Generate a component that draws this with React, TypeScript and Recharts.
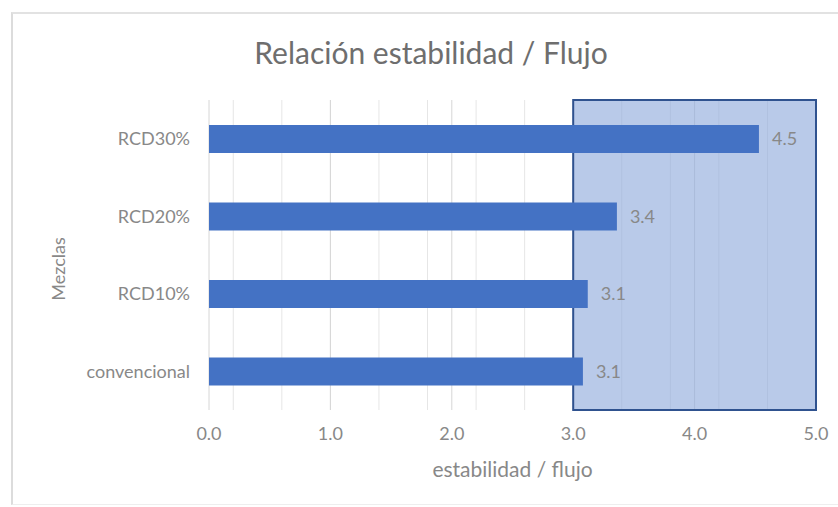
import { BarChart, Bar, XAxis, YAxis, CartesianGrid, ReferenceArea, LabelList } from 'recharts'

const mezclas = ['RCD30%', 'RCD20%', 'RCD10%', 'convencional']
const relacion = [4.53, 3.36, 3.12, 3.08]
const xTicks = [0, 1, 2, 3, 4, 5]
const minorTicks = [0, 0.2, 0.4, 0.6, 0.8, 1, 1.2, 1.4, 1.6, 1.8, 2, 2.2, 2.4, 2.6, 2.8, 3, 3.2, 3.4, 3.6, 3.8, 4, 4.2, 4.4, 4.6, 4.8, 5]
const zona = [3, 5]

const data = mezclas.map((name, i) => ({ name, value: relacion[i] }))

const font = 'Lato, "Open Sans", sans-serif'
const grey = '#888888'

// eslint-disable-next-line @typescript-eslint/no-explicit-any
function MezclasLabel({ viewBox }: any) {
  const cx = viewBox.x + 58
  const cy = viewBox.y + viewBox.height / 2 + 14
  return (
    <text x={cx} y={cy} transform={`rotate(-90, ${cx}, ${cy})`} textAnchor="middle" dominantBaseline="central"
      fill={grey} fontSize={18} fontFamily={font}>
      Mezclas
    </text>
  )
}

// eslint-disable-next-line @typescript-eslint/no-explicit-any
function FlujoLabel({ viewBox }: any) {
  return (
    <text x={viewBox.x + viewBox.width / 2} y={viewBox.y + 58} textAnchor="middle" dominantBaseline="central"
      fill={grey} style={{ fontSize: 21, fontFamily: font }}>
      estabilidad / flujo
    </text>
  )
}

export default function App() {
  return (
    <div style={{ position: 'absolute', top: 0, left: 0, width: 838, height: 507, background: '#fff', fontFamily: font }}>
      <div style={{ position: 'absolute', top: 12, left: 11, width: 827, height: 490, borderTop: '2px solid #e2e2e2', borderLeft: '2px solid #dcdcdc', borderBottom: '1px solid #eeeeee' }} />
      <div style={{ position: 'absolute', top: 34, left: 0, width: 862, textAlign: 'center', fontSize: 30, color: '#6e6e6e' }}>
        Relación estabilidad / Flujo
      </div>
      <div style={{ position: 'absolute', top: 0, left: 0 }}>
        <BarChart width={838} height={507} data={data} layout="vertical"
          margin={{ top: 100, right: 22, bottom: 27, left: 0 }} barSize={28}>
          <CartesianGrid horizontal={false} verticalValues={minorTicks} stroke="#e6e6e6" />
          <CartesianGrid horizontal={false} stroke="#d6d6d6" />
          <XAxis type="number" domain={[0, 5]} ticks={xTicks} tickFormatter={(v) => v.toFixed(1)}
            tick={{ fontSize: 18, fill: grey, fontFamily: font }} tickLine={false} axisLine={false}
            tickSize={0} tickMargin={17} height={70}
            label={<FlujoLabel />} />
          <YAxis type="category" dataKey="name" width={209} tickLine={false} axisLine={false}
            tickSize={0} tickMargin={19} tick={{ fontSize: 18, fill: grey, fontFamily: font }}
            label={<MezclasLabel />} />
          <ReferenceArea x1={zona[0]} x2={zona[1]} fill="#8eaadb" fillOpacity={0.62}
            stroke="#2f528f" strokeWidth={2} strokeOpacity={1} zIndex={-50} />
          <Bar dataKey="value" fill="#4472c4" isAnimationActive={false}>
            <LabelList dataKey="value" position="right" offset={13} fontSize={18} fill={grey} fontFamily={font}
              formatter={(v: number) => v.toFixed(1)} />
          </Bar>
        </BarChart>
      </div>
    </div>
  )
}
